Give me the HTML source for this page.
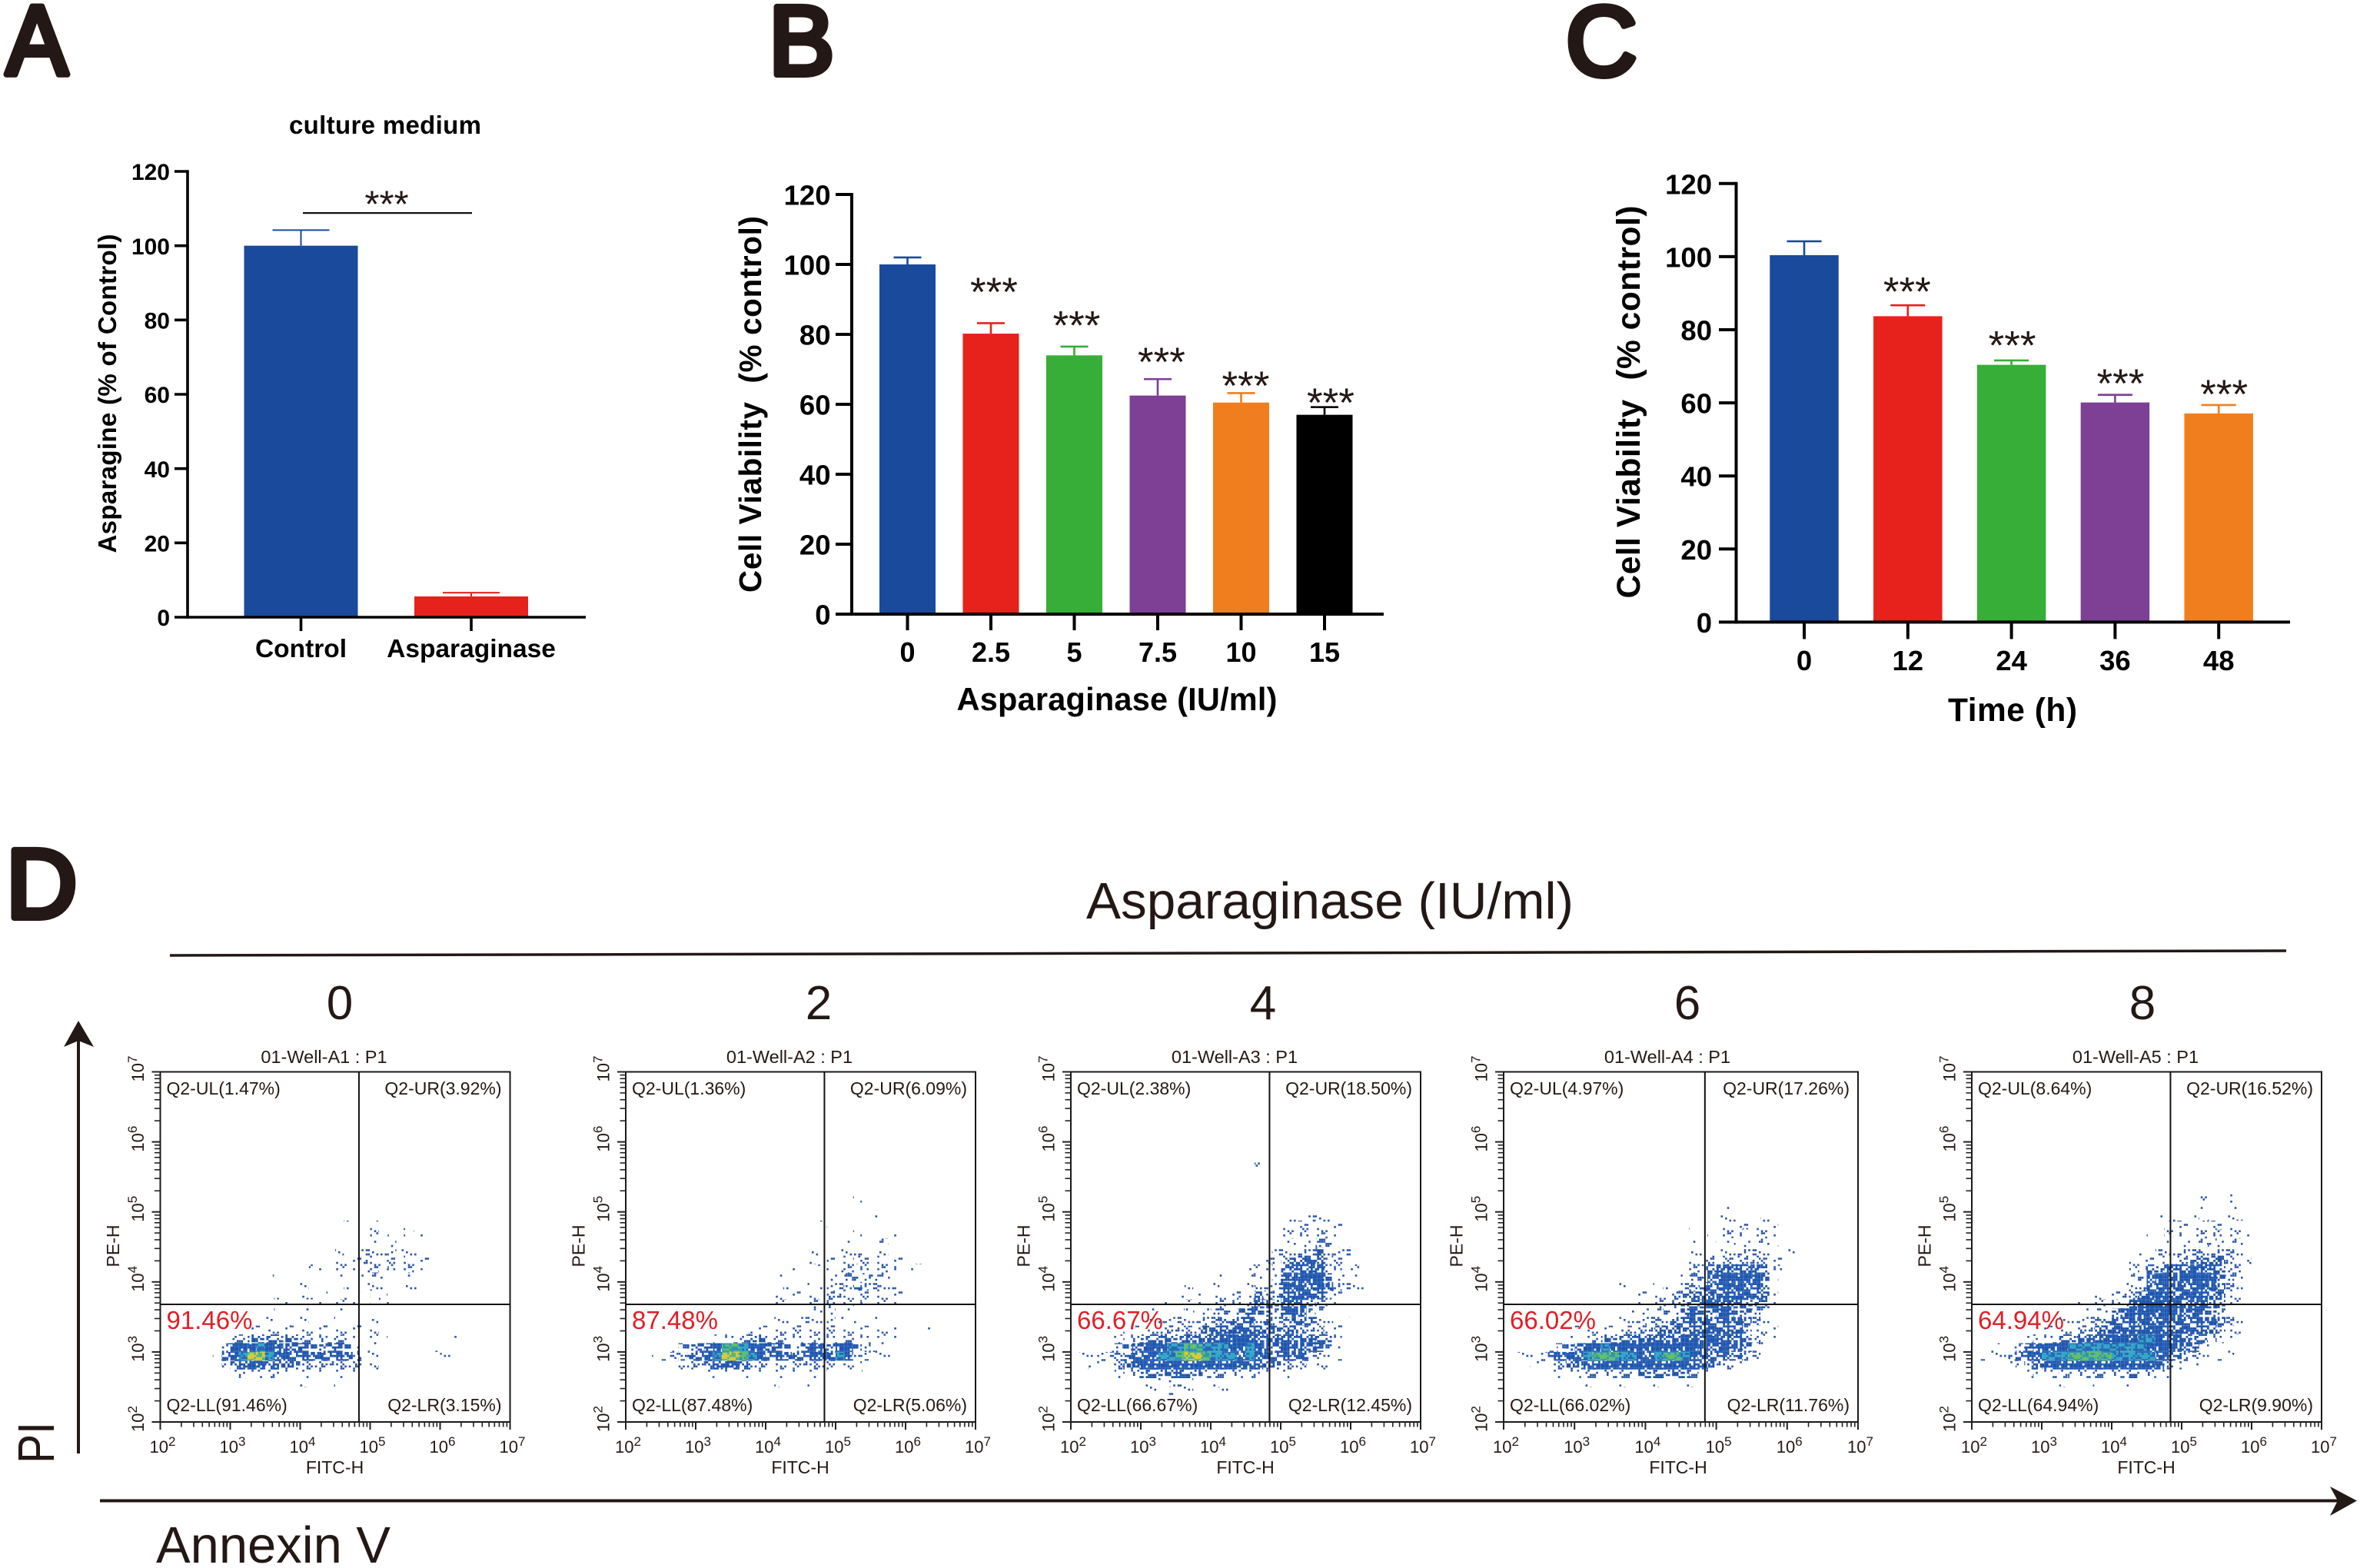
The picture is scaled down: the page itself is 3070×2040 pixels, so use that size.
<!DOCTYPE html>
<html lang="en">
<head>
<meta charset="utf-8">
<title>Asparaginase viability and apoptosis figure</title>
<style>
html,body{margin:0;padding:0;background:#fff}
svg{display:block}
text{font-family:"Liberation Sans",sans-serif;fill:#000}
.b{font-weight:bold}
.ink{fill:#231815}
.letter{font-weight:normal;font-size:128px;fill:#231815;stroke:#231815;stroke-width:8px;stroke-linejoin:round}
</style>
</head>
<body>
<svg id="figure" xmlns="http://www.w3.org/2000/svg" width="3070" height="2040" viewBox="0 0 3070 2040">
<rect x="0" y="0" width="3070" height="2040" fill="#fff"/>
<defs id="speckles"></defs>

<text class="letter" x="8" y="97" textLength="80" lengthAdjust="spacingAndGlyphs">A</text>
<text class="letter" x="1000" y="97">B</text>
<text class="letter" x="2037" y="98">C</text>
<text class="letter" x="8" y="1194">D</text>

<g id="chart-a">
  <text class="b" x="501" y="174" font-size="33" text-anchor="middle" textLength="250">culture medium</text>
  <text class="b" transform="rotate(-90 151 512)" x="151" y="512" font-size="33" text-anchor="middle" textLength="415">Asparagine (% of Control)</text>
</g>
<g id="chart-b">
  <text class="b" transform="rotate(-90 990 526)" x="990" y="526" font-size="40.5" text-anchor="middle" textLength="490" xml:space="preserve">Cell Viability  (% control)</text>
  <text class="b" x="1453" y="924" font-size="41.5" text-anchor="middle" textLength="417">Asparaginase (IU/ml)</text>
</g>
<g id="chart-c">
  <text class="b" transform="rotate(-90 2133 523)" x="2133" y="523" font-size="42.5" text-anchor="middle" textLength="511" xml:space="preserve">Cell Viability  (% control)</text>
  <text class="b" x="2618" y="938" font-size="42.5" text-anchor="middle" textLength="168">Time (h)</text>
</g>

<g id="flow-panels">
  <text class="ink" x="1413" y="1195" font-size="67" textLength="634" lengthAdjust="spacingAndGlyphs">Asparaginase (IU/ml)</text>
  <line x1="221" y1="1243" x2="2974" y2="1237" stroke="#231815" stroke-width="3.5"/>
  <text class="ink" x="442" y="1326" font-size="62" text-anchor="middle">0</text>
  <text class="ink" x="1065" y="1326" font-size="62" text-anchor="middle">2</text>
  <text class="ink" x="1643" y="1326" font-size="62" text-anchor="middle">4</text>
  <text class="ink" x="2195" y="1326" font-size="62" text-anchor="middle">6</text>
  <text class="ink" x="2787" y="1326" font-size="62" text-anchor="middle">8</text>
  <line x1="102" y1="1891" x2="102" y2="1350" stroke="#231815" stroke-width="4"/>
  <polygon points="102,1328 83,1362 102,1354 122,1362" fill="#231815"/>
  <line x1="130" y1="1952.5" x2="3045" y2="1952.5" stroke="#231815" stroke-width="4"/>
  <polygon points="3066,1952.5 3031,1934 3041,1952.5 3031,1972" fill="#231815"/>
  <text class="ink" transform="rotate(-90 70 1877)" x="70" y="1877" font-size="67" text-anchor="middle" textLength="54" lengthAdjust="spacingAndGlyphs">PI</text>
  <text class="ink" x="203" y="2033" font-size="67" textLength="305" lengthAdjust="spacingAndGlyphs">Annexin V</text>
</g>
</svg>

<script>
/* ---------- bar chart data ---------- */
const yTickValues = [0, 20, 40, 60, 80, 100, 120];

const categoriesA = ["Control", "Asparaginase"];
const valuesA = [100, 5.6];
const errorTopsA = [104.2, 6.6];
const bracketLevelA = [108.8];
const starLevelA = [112.5];

const categoriesB = ["0", "2.5", "5", "7.5", "10", "15"];
const valuesB = [100, 80.2, 74, 62.5, 60.5, 57];
const errorTopsB = [102, 83.2, 76.5, 67.2, 63.2, 59.2];
const starLevelsB = [null, 93.6, 84, 73.6, 66.8, 62];

const categoriesC = ["0", "12", "24", "36", "48"];
const valuesC = [100.4, 83.7, 70.4, 60.1, 57.1];
const errorTopsC = [104.2, 86.7, 71.6, 62.2, 59.4];
const starLevelsC = [null, 91.9, 77.1, 66.7, 63.8];

/* ---------- flow cytometry data ---------- */
const wellTitles = ["01-Well-A1 : P1", "01-Well-A2 : P1", "01-Well-A3 : P1", "01-Well-A4 : P1", "01-Well-A5 : P1"];
const quadrantUL = ["Q2-UL(1.47%)", "Q2-UL(1.36%)", "Q2-UL(2.38%)", "Q2-UL(4.97%)", "Q2-UL(8.64%)"];
const quadrantUR = ["Q2-UR(3.92%)", "Q2-UR(6.09%)", "Q2-UR(18.50%)", "Q2-UR(17.26%)", "Q2-UR(16.52%)"];
const quadrantLL = ["Q2-LL(91.46%)", "Q2-LL(87.48%)", "Q2-LL(66.67%)", "Q2-LL(66.02%)", "Q2-LL(64.94%)"];
const quadrantLR = ["Q2-LR(3.15%)", "Q2-LR(5.06%)", "Q2-LR(12.45%)", "Q2-LR(11.76%)", "Q2-LR(9.90%)"];
const liveLabels = ["91.46%", "87.48%", "66.67%", "66.02%", "64.94%"];
const logTickExponents = [2, 3, 4, 5, 6, 7];

/* Density: row 0 is log10(PE-H)=6, each row/column is 1/8 decade,
   column 0 is log10(FITC-H)=2. Digit = point density level (0-9). */
const densityWell1 = ["","","","","","","","","",
"0000000000 0000000000 0100100100",
"0000000000 0000000000 0000101201 1",
"0000000000 0000000000 0001112101 11",
"0000000000 0000100000 1012222111 1",
"0000000000 0000000000 1113222211 1",
"0000000000 0000000110 1113312121",
"0000000000 0010100010 1112221111",
"0000000000 1000001000 0111211011",
"0000000000 0001001101 0101010",
"0000000000 0000100011 1111011",
"0000000000 0101011000 1010010",
"0000000000 1010101011 0010100",
"0000000000 1111111111 1110100",
"0000000133 4444443333 3211110000 0001",
"0000001356 6765554444 4431111000 010",
"0000001467 9976655554 5531100000 0011",
"0000000245 6544443333 333210",
"0000000012 2222111111 1010",
"0000000001 0100101001"];

const densityWell2 = ["","","","","","",
"0000000000 0000000000 0000001",
"",
"0000000000 0000000000 0000000010",
"0000000000 0000000000 0010000000",
"0000000000 0000000000 0000001000 1",
"0000000000 0000000000 0011011012 011",
"0000000000 0000000000 0101122101 01",
"0000000000 0000000000 0101223221 1101",
"0000000000 0000000001 1011322222 211",
"0000000000 0000000100 1012233332 21",
"0000000000 0000000011 1012324332 21",
"0000000000 0000000101 0103322222 11",
"0000000000 0000000110 1213212121 10",
"0000000000 0000000011 1122111110",
"0000000000 0000000111 2112101010",
"0000000000 0000111222 2122211111 1000 1",
"0000000000 1233443322 2222233211 1",
"0000013454 6887665443 4554664321 10",
"0001123456 7998765554 5665752211 1",
"0000001334 5554332222 3332211000",
"0000000011 1211110101 1110000100",
"0000000000 1100100100 10"];

const densityWell3 = ["","",
"0000000000 0000000000 01","","","",
"",
"0000000000 0000000000 0001001001 1",
"0000000000 0000000000 0000011211",
"0000000000 0000000000 0000112211 11",
"0000000000 0000000000 0001112222 11",
"0000000000 0000000000 0011122233 11",
"0000000000 0000000000 0012223342 23",
"0000000000 0000000000 0022344543 22",
"0000000000 0000000001 1112455553 211",
"0000000000 0000000101 2212456654 2211 1",
"0000000000 0001001011 1322565665 3211",
"0000000000 0010101112 1433566553 11",
"0000000000 1101112223 3544555432 1",
"0000000001 1121223334 4443465321 01",
"0000000001 2222233444 4343354422 10",
"0000001112 3333345555 5544443332 11",
"0000112344 5445555666 6555555544 21",
"0011134556 6778877766 7654555543 2",
"0112234566 7789987776 7655555321 1",
"0011134566 6666666665 5544332111",
"0000012344 4454433332 2211100",
"0000001111 2222111110 0010",
"0000000001 0111000100"];

const densityWell4 = ["","","","","","",
"0000000000 0000000000 0000000 1",
"0000000000 0000000000 0001110100 1",
"0000000000 0000000000 0001111101 1",
"0000000000 0000000000 1000121211 1",
"0000000000 0000000000 0001122122 1",
"0000000000 0000000000 0111212222 21",
"0000000000 0000000001 0111122322 111",
"0000000000 0000000000 1123233333 11",
"0000000000 0000000000 1234555554 22",
"0000000000 0000000010 2335566654 2",
"0000000000 0001001011 3345666654 11",
"0000000000 0000011123 4444566554 1",
"0000000000 0000011223 4456555444 1",
"0000000000 0000222233 4544554431",
"0000000000 0001223334 4555555432 1",
"0000000011 1112333444 4555555322 1",
"0000000111 3444555555 6656555431 1",
"0000123455 6766666666 6655555421",
"0111245667 8887766788 7654444320",
"0001123445 6666666666 6554321000",
"0000011223 3333344444 431100",
"0000000011 1111111111 1100"];

const densityWell5 = ["","","","","","",
"0000000000 0000000000 0000001001",
"0000000000 0000000100 0000001010 1",
"0000000000 0000000000 0101110111 1",
"0000000000 0000000000 0012112211",
"0000000000 0000000000 1012122222 11",
"0000000000 0000000000 1111222322 21",
"0000000000 0000000001 1222333333 21",
"0000000000 0000000011 1223344443 22",
"0000000000 0000000012 4455565543 2",
"0000000000 0000000123 5655666643 21",
"0000000000 0000000123 5655566543 2",
"0000000000 0000101335 5665566442 1",
"0000000000 0011122356 6666556442 1",
"0000000000 0112224556 6565554431",
"0000000000 1122345556 6655555543 1",
"0000000011 2233445566 6655555432 1",
"0000011223 4455566667 7656544321",
"0011234566 6777777777 6665542211",
"0112345677 7888887777 7654322111",
"0000123456 6666666666 6532110",
"0000001223 2333333343 3210",
"0000000000 1111011100"];

/* ---------- helpers ---------- */
const NS = "http://www.w3.org/2000/svg";
function make(tag, attrs, parent, content) {
  const el = document.createElementNS(NS, tag);
  for (const k in attrs) el.setAttribute(k, attrs[k]);
  if (content !== undefined) el.textContent = content;
  parent.appendChild(el);
  return el;
}
function slug(s) { return String(s).toLowerCase().replace(/[^a-z0-9]+/g, "-"); }

/* ---------- speckle textures used to paint density cells ---------- */
const levelCount = [0,16,32,64,112,168,224,128,128,128];
const levelDot = [0,2.6,2.6,2.6,2.8,2.8,2.8,2.8,2.8,2.8];
const levelBase = [null,null,null,null,null,null,null,"#2a66b4","#2f93b6","#52b58c"];
const levelInk = ["","#2a55a5","#2a55a5","#2453a6","#2053a8","#1f55ad","#1e57b0","#35a9c8","#63c06a","#dccb36"];
(function buildSpeckles() {
  const defs = document.getElementById("speckles");
  for (let lv = 1; lv <= 9; lv++) {
    const p = make("pattern", {id: "speckle-" + lv, patternUnits: "userSpaceOnUse", width: 44, height: 44}, defs);
    if (levelBase[lv]) make("rect", {x: 0, y: 0, width: 44, height: 44, fill: levelBase[lv]}, p);
    for (let r = 0; r < 16; r++) for (let c = 0; c < 16; c++) {
      const threshold = (c * c * 37 + r * r * 59 + c * r * 17 + c * 11 + r * 5) % 256;
      if (threshold >= levelCount[lv]) continue;
      make("rect", {x: c * 2.75, y: r * 2.75, width: levelDot[lv], height: levelDot[lv], fill: levelInk[lv]}, p);
    }
  }
})();

/* ---------- bar charts ---------- */
function drawBarChart(groupId, frame, categories, values, errorTops, starLevels) {
  const g = document.getElementById(groupId);
  const prefix = groupId;
  const yOf = function (v) { return frame.y0 - v * (frame.y0 - frame.yTop) / 120; };
  const xOf = function (i) { return frame.firstX + i * frame.stepX; };

  categories.forEach(function (cat, i) {
    const cx = xOf(i);
    const bar = make("rect", {x: cx - frame.barW / 2, y: yOf(values[i]), width: frame.barW, height: frame.y0 - yOf(values[i]), fill: frame.colors[i]}, g);
    
    
    const stem = make("line", {x1: cx, x2: cx, y1: yOf(values[i]), y2: yOf(errorTops[i]), stroke: frame.colors[i], "stroke-width": frame.errW}, g);
    
    
    const cap = make("line", {x1: cx - frame.capHalf, x2: cx + frame.capHalf, y1: yOf(errorTops[i]), y2: yOf(errorTops[i]), stroke: frame.colors[i], "stroke-width": frame.errW}, g);
    
    
    const tick = make("line", {x1: cx, x2: cx, y1: frame.y0, y2: frame.y0 + frame.xTick, stroke: "#000", "stroke-width": frame.axisW}, g);
    
    
    const label = make("text", {x: cx, y: frame.xLabelY, "font-size": frame.xFont, "font-weight": "bold", "text-anchor": "middle"}, g, cat);
    
    
    if (starLevels && starLevels[i] !== null && starLevels[i] !== undefined) {
      const star = make("text", {x: cx + frame.starNudge[i], y: yOf(starLevels[i]) + frame.starFont * 0.47, "font-size": frame.starFont, "text-anchor": "middle", style: "fill:#231815"}, g, "***");
      
      
    }
  });

  yTickValues.forEach(function (v) {
    const tick = make("line", {x1: frame.x0 - frame.yTick, x2: frame.x0, y1: yOf(v), y2: yOf(v), stroke: "#000", "stroke-width": frame.axisW}, g);
    
    
    const label = make("text", {x: frame.yLabelX, y: yOf(v) + frame.yFont * 0.37, "font-size": frame.yFont, "font-weight": "bold", "text-anchor": "end"}, g, String(v));
    
    
  });

  const yAxis = make("line", {x1: frame.x0, x2: frame.x0, y1: frame.y0 + frame.axisW / 2, y2: frame.yTop - frame.axisW / 2, stroke: "#000", "stroke-width": frame.axisW}, g);
  
  
  const xAxis = make("line", {x1: frame.x0, x2: frame.xEnd, y1: frame.y0, y2: frame.y0, stroke: "#000", "stroke-width": frame.axisW}, g);
  
  
  return yOf;
}

const yOfA = drawBarChart("chart-a", {
  x0: 244, y0: 803, yTop: 223, xEnd: 762, firstX: 391.5, stepX: 221.5, barW: 148, colors: ["#1a4a9c", "#e7211b"],
  errW: 2, capHalf: 37, axisW: 3.6, yTick: 17, xTick: 18, xLabelY: 855, xFont: 33.5, yFont: 30, yLabelX: 221, starFont: 49, starNudge: [0, 0]
}, categoriesA, valuesA, errorTopsA, null);

(function () {
  const g = document.getElementById("chart-a");
  const bracket = make("line", {x1: 394, x2: 614, y1: yOfA(bracketLevelA[0]), y2: yOfA(bracketLevelA[0]), stroke: "#111", "stroke-width": 2.2}, g);
  
  
  const star = make("text", {x: 503, y: yOfA(starLevelA[0]) + 49 * 0.47, "font-size": 49, "text-anchor": "middle", style: "fill:#231815"}, g, "***");
  
  
})();

drawBarChart("chart-b", {
  x0: 1108, y0: 799, yTop: 253, xEnd: 1800, firstX: 1180.5, stepX: 108.5, barW: 73,
  colors: ["#1a4a9c", "#e7211b", "#36ae37", "#7d4095", "#f07e1e", "#000000"],
  errW: 2.6, capHalf: 18, axisW: 4, yTick: 21, xTick: 21, xLabelY: 861, xFont: 36, yFont: 36.5, yLabelX: 1080.5, starFont: 53, starNudge: [0, 4, 3, 5, 6, 8]
}, categoriesB, valuesB, errorTopsB, starLevelsB);

drawBarChart("chart-c", {
  x0: 2258.5, y0: 809.4, yTop: 238.8, xEnd: 2979, firstX: 2347, stepX: 134.8, barW: 89.5,
  colors: ["#1a4a9c", "#e7211b", "#36ae37", "#7d4095", "#f07e1e"],
  errW: 2.6, capHalf: 22.5, axisW: 4, yTick: 22.5, xTick: 22, xLabelY: 872, xFont: 36.5, yFont: 36.5, yLabelX: 2227, starFont: 53, starNudge: [0, -1, 1, 7, 7]
}, categoriesC, valuesC, errorTopsC, starLevelsC);

/* ---------- flow cytometry panels ---------- */
const wellFrames = [
  {left: 208.5, width: 455}, {left: 814, width: 455}, {left: 1393, width: 455}, {left: 1956, width: 461}, {left: 2565, width: 455}
];
const wellDensity = [densityWell1, densityWell2, densityWell3, densityWell4, densityWell5];
const plotTop = 1394.5, plotSize = 455.5;
const logMin = 2, logMax = 7, gateLogX = 4.84, gateLogY = 3.68, gridTopLog = 6, gridStep = 0.125;

function addExponentLabel(parent, attrs, exponent) {
  const t = make("text", Object.assign({"font-size": 22, style: "fill:#231815"}, attrs), parent);
  make("tspan", {}, t, "10");
  make("tspan", {dy: -9, "font-size": 17}, t, String(exponent));
  return t;
}

function drawWell(index) {
  const frame = wellFrames[index];
  const root = document.getElementById("flow-panels");
  const g = make("g", {}, root);
  
  
  const xOf = function (lg) { return frame.left + (lg - logMin) / (logMax - logMin) * frame.width; };
  const yOf = function (lg) { return plotTop + (logMax - lg) / (logMax - logMin) * plotSize; };

  wellDensity[index].forEach(function (rowText, r) {
    const row = rowText.replace(/ /g, "");
    for (let c = 0; c < row.length; c++) {
      const level = +row.charAt(c);
      if (!level) continue;
      const x1 = xOf(logMin + c * gridStep), x2 = xOf(logMin + (c + 1) * gridStep);
      const y1 = yOf(gridTopLog - r * gridStep), y2 = yOf(gridTopLog - (r + 1) * gridStep);
      const cell = make("rect", {x: x1, y: y1, width: x2 - x1, height: y2 - y1, fill: "url(#speckle-" + level + ")"}, g);
      
      
    }
  });

  const frameRect = make("rect", {x: frame.left, y: plotTop, width: frame.width, height: plotSize, fill: "none", stroke: "#1a1a1a", "stroke-width": 2}, g);
  
  
  const gateV = make("line", {x1: xOf(gateLogX), x2: xOf(gateLogX), y1: plotTop, y2: plotTop + plotSize, stroke: "#111", "stroke-width": 2}, g);
  
  
  const gateH = make("line", {x1: frame.left, x2: frame.left + frame.width, y1: yOf(gateLogY), y2: yOf(gateLogY), stroke: "#111", "stroke-width": 2}, g);
  
  

  /* log axes */
  logTickExponents.forEach(function (exp) {
    const limit = exp === logMax ? 1 : 9;
    for (let d = 1; d <= limit; d++) {
      const lg = exp + Math.log10(d);
      const major = d === 1;
      const tx = make("line", {x1: xOf(lg), x2: xOf(lg), y1: plotTop + plotSize, y2: plotTop + plotSize + (major ? 10 : 6.5), stroke: "#222", "stroke-width": major ? 2 : 1.6}, g);
      
      
      const ty = make("line", {x1: frame.left - (major ? 11 : 7.5), x2: frame.left, y1: yOf(lg), y2: yOf(lg), stroke: "#222", "stroke-width": major ? 2 : 1.6}, g);
      
      
    }
    const xl = addExponentLabel(g, {x: xOf(exp) - 14, y: 1890}, exp);
    
    
    const ly = yOf(exp) + 13, lx = frame.left - 21.5;
    const yl = addExponentLabel(g, {x: lx, y: ly, transform: "rotate(-90 " + lx + " " + ly + ")"}, exp);
    
    
  });

  const title = make("text", {x: frame.left + 213, y: 1383, "font-size": 23.5, "text-anchor": "middle", style: "fill:#231815"}, g, wellTitles[index]);
  
  
  const xTitle = make("text", {x: frame.left + 227, y: 1917, "font-size": 23, "text-anchor": "middle", style: "fill:#231815"}, g, "FITC-H");
  
  
  const yx = frame.left - 53.5;
  const yTitle = make("text", {x: yx, y: 1621, "font-size": 23, "text-anchor": "middle", style: "fill:#231815", transform: "rotate(-90 " + yx + " 1621)"}, g, "PE-H");
  
  

  const left = frame.left + 8, right = frame.left + frame.width - 11;
  const ul = make("text", {x: left, y: 1424, "font-size": 23, style: "fill:#231815"}, g, quadrantUL[index]);
  
  
  const ur = make("text", {x: right, y: 1424, "font-size": 23, "text-anchor": "end", style: "fill:#231815"}, g, quadrantUR[index]);
  
  
  const ll = make("text", {x: left, y: 1836, "font-size": 23, style: "fill:#231815"}, g, quadrantLL[index]);
  
  
  const lr = make("text", {x: right, y: 1836, "font-size": 23, "text-anchor": "end", style: "fill:#231815"}, g, quadrantLR[index]);
  
  
  const live = make("text", {x: left, y: 1729, "font-size": 33, style: "fill:#e01f26"}, g, liveLabels[index]);
  
  
}
wellFrames.forEach(function (f, i) { drawWell(i); });
</script>
</body>
</html>
